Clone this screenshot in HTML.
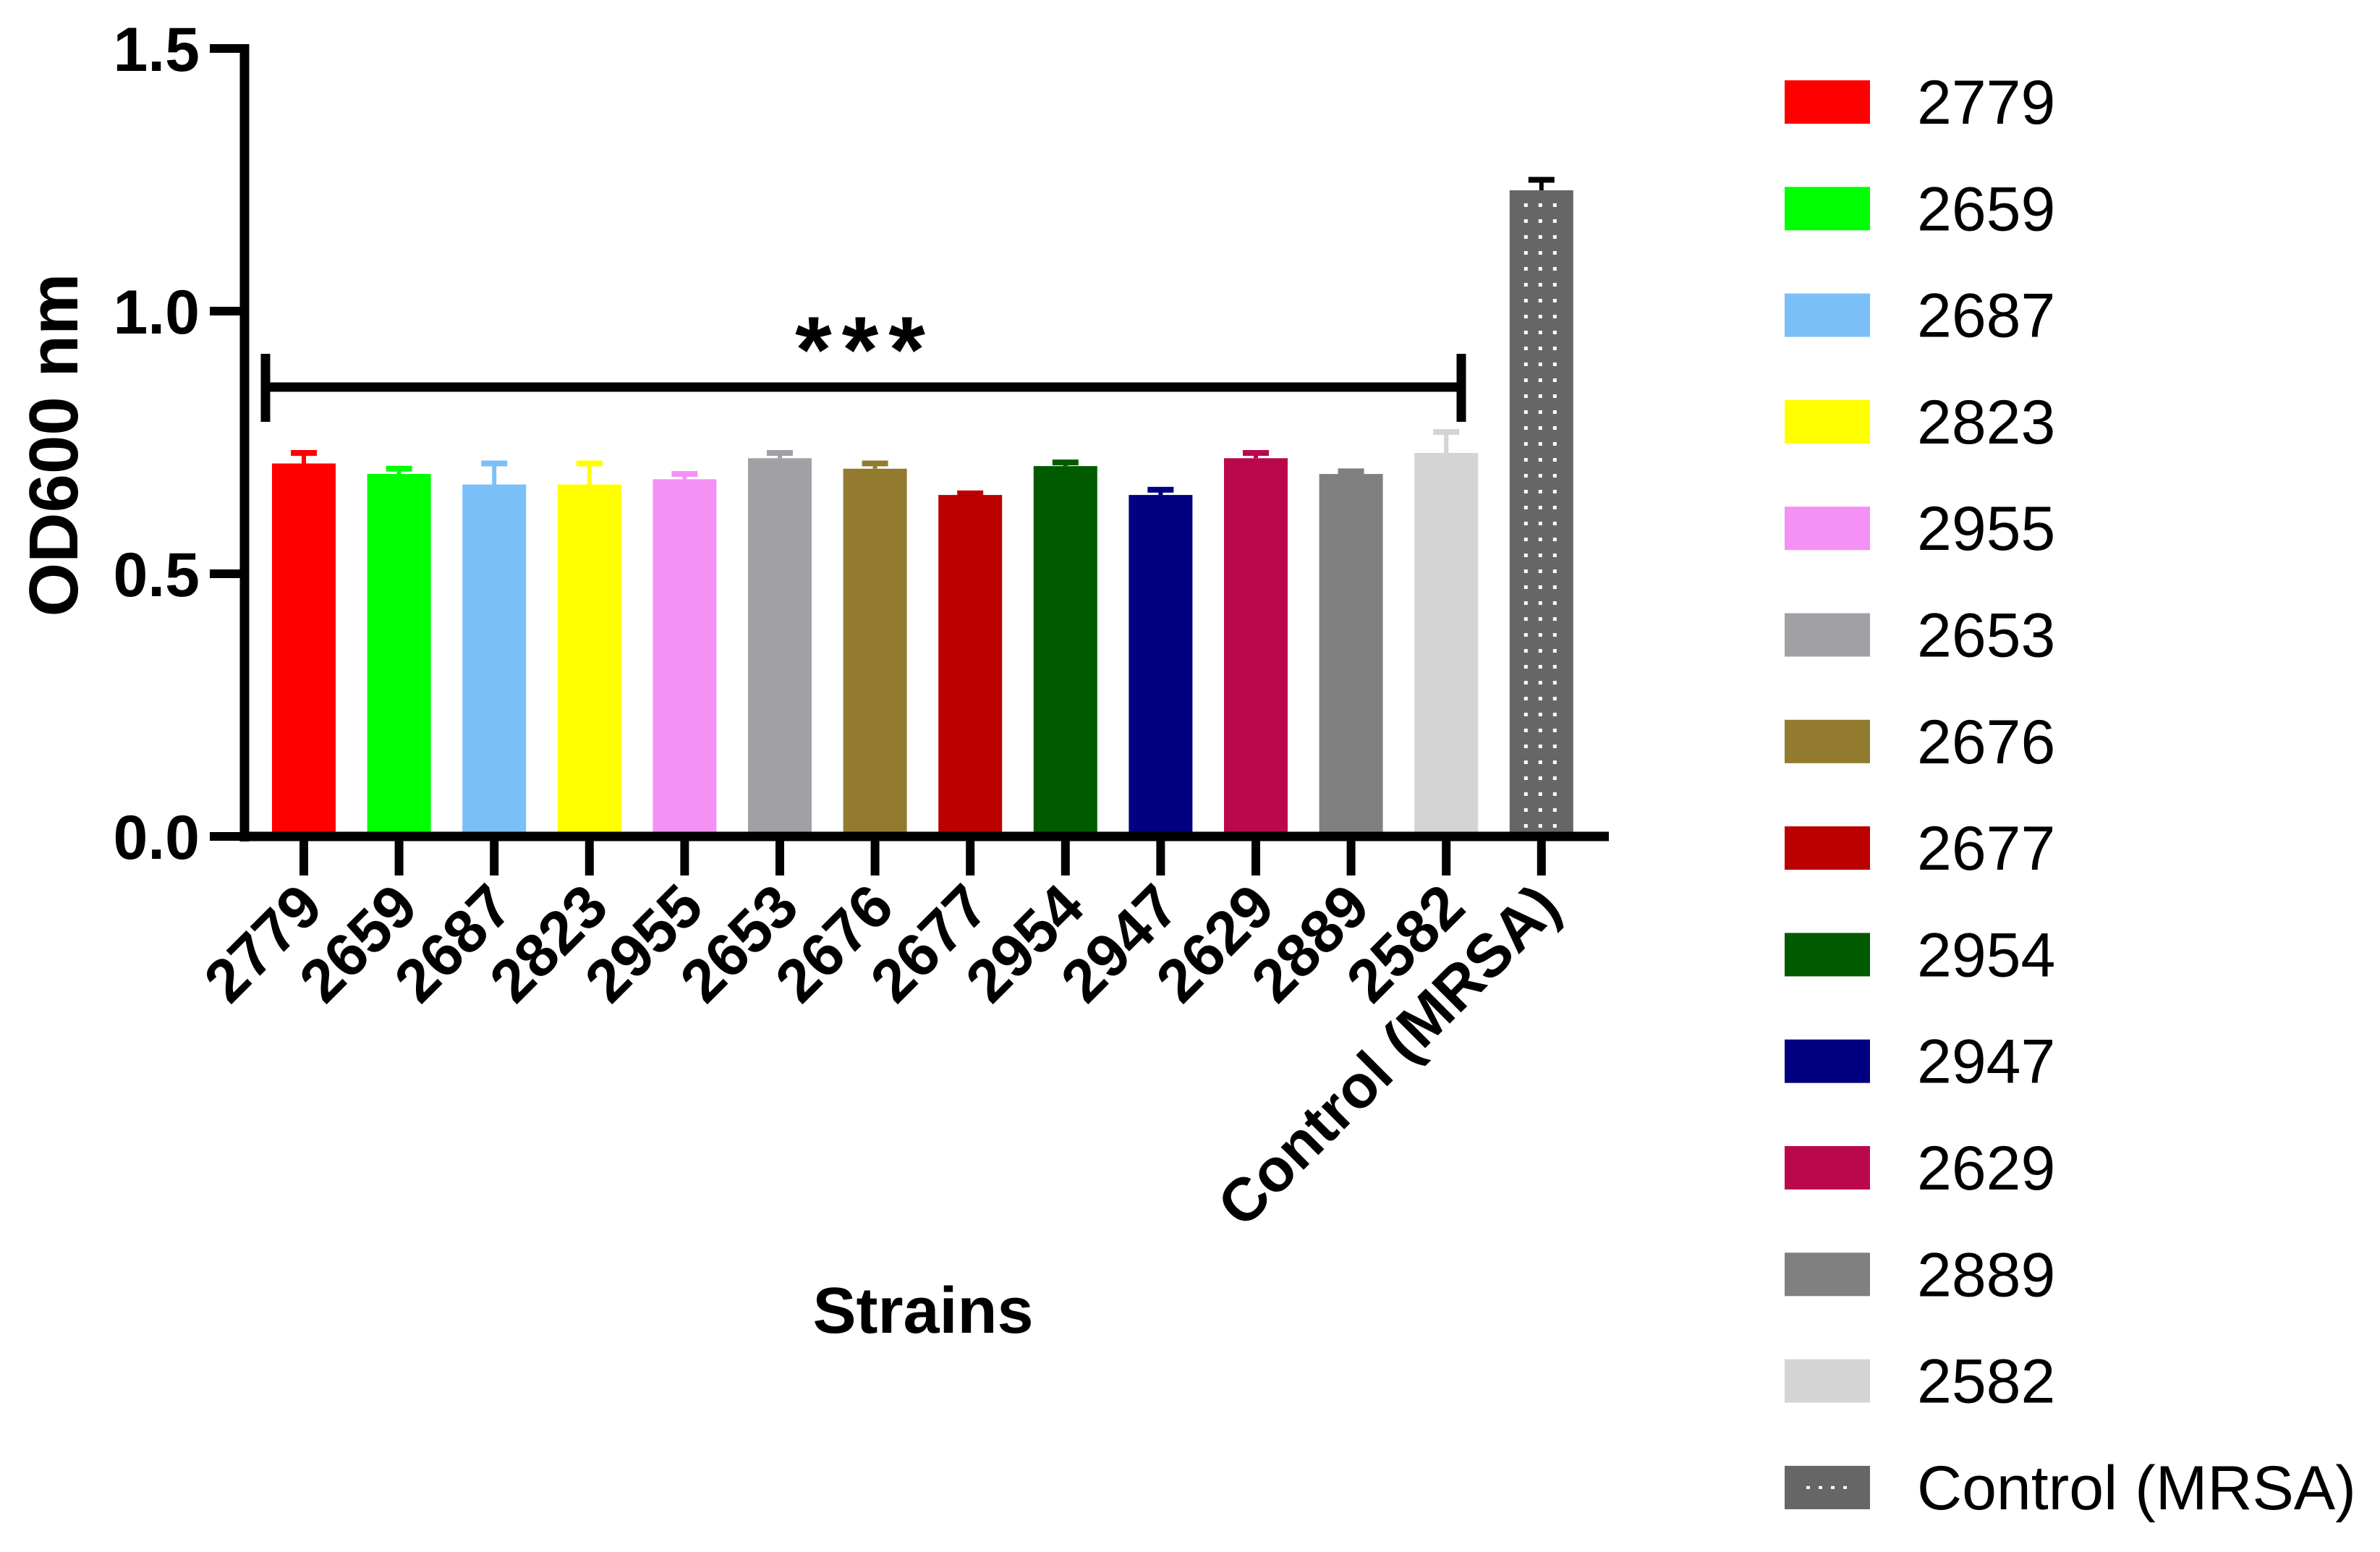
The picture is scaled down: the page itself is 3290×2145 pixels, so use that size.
<!DOCTYPE html>
<html><head><meta charset="utf-8">
<style>
html,body{margin:0;padding:0;background:#fff;}
svg{display:block;font-family:"Liberation Sans",Arial,sans-serif;}
</style></head>
<body>
<svg id="chart" width="3290" height="2145" viewBox="0 0 3290 2145" xmlns="http://www.w3.org/2000/svg">
<defs>
<pattern id="dots" x="2113" y="0" width="20" height="22" patternUnits="userSpaceOnUse">
<rect width="20" height="22" fill="#666666"/>
<rect x="24" y="0" width="0" height="0" fill="#fff"/>
</pattern>
</defs>
<g id="plot"></g>
</svg>
<script>
const categories = ["2779","2659","2687","2823","2955","2653","2676","2677","2954","2947","2629","2889","2582","Control (MRSA)"];
const means = [0.71,0.69,0.67,0.67,0.68,0.72,0.70,0.65,0.705,0.65,0.72,0.69,0.73,1.23];
const errors = [0.02,0.01,0.04,0.04,0.01,0.01,0.01,0.003,0.007,0.01,0.01,0.005,0.04,0.02];
const colors = ["#ff0000","#00ff00","#7bbff9","#ffff00","#f590f5","#a1a1a5","#927b2f","#bb0000","#005a00","#000080","#bb074c","#808080","#d4d4d4","#666666"];
const yTicks = [0.0,0.5,1.0,1.5];
const yTickLabels = ["0.0","0.5","1.0","1.5"];

const NS="http://www.w3.org/2000/svg";
const g=document.getElementById('plot');
const axX=338, y0=1156, y1=67, yMax=1.5;
function yScale(v){return y0-(y0-y1)*v/yMax;}
const firstX=420, step=131.6, barW=88;
function xScale(i){return firstX+i*step;}
function mk(tag,attrs){const e=document.createElementNS(NS,tag);for(const k in attrs)e.setAttribute(k,attrs[k]);g.appendChild(e);return e;}

categories.forEach((c,i)=>{
  const x=xScale(i), top=yScale(means[i]);
  const col = i===categories.length-1 ? "#000000" : colors[i];
  const eb=yScale(means[i]+errors[i]);
  const ev=mk('line',{x1:x,x2:x,y1:top,y2:eb,stroke:col,'stroke-width':6});
  
  
  const ec=mk('line',{x1:x-18,x2:x+18,y1:eb,y2:eb,stroke:col,'stroke-width':8});
  
  
  const r=mk('rect',{x:x-barW/2,y:top,width:barW,height:y0-top,fill:colors[i]});
  
  
  if(i===categories.length-1){
    for(let col2=0;col2<3;col2++){
      for(let yy=top+18; yy<y0-6; yy+=22){
        const d=mk('rect',{x:x-24+col2*20,y:yy,width:5,height:5,fill:'#ffffff'});
        
        
      }
    }
  }
  const t=mk('line',{x1:x,x2:x,y1:y0,y2:1210,stroke:'#000','stroke-width':12});
  
  
  const lbl=mk('text',{x:0,y:0,'text-anchor':'end','font-size':84,'font-weight':'bold',transform:`translate(${x+30},${1258}) rotate(-45)`});
  lbl.textContent=c;
  
  
});

const ya=mk('line',{x1:axX,x2:axX,y1:y1-6,y2:y0+7,stroke:'#000','stroke-width':13});


const xa=mk('line',{x1:axX-6,x2:2224,y1:y0,y2:y0,stroke:'#000','stroke-width':13});


yTicks.forEach((v,i)=>{
  const y=yScale(v);
  const t=mk('line',{x1:axX-48,x2:axX,y1:y,y2:y,stroke:'#000','stroke-width':12});
  
  
  const l=mk('text',{x:276,y:y+31,'text-anchor':'end','font-size':86,'font-weight':'bold'});
  l.textContent=yTickLabels[i];
  
  
});
const yt=mk('text',{x:0,y:0,'text-anchor':'middle','font-size':96,'font-weight':'bold',transform:'translate(107,615) rotate(-90)'});
yt.textContent='OD600 nm';


const xt=mk('text',{x:1276,y:1842,'text-anchor':'middle','font-size':90,'font-weight':'bold'});
xt.textContent='Strains';



const sb=mk('path',{d:'M367 489 V583 M367 535 H2020 M2020 489 V583',stroke:'#000','stroke-width':13,fill:'none'});


const st=mk('text',{x:1196,y:528,'text-anchor':'middle','font-size':130,'font-weight':'bold','letter-spacing':'14'});
st.textContent='***';



categories.forEach((c,i)=>{
  const cy=141+i*147.3;
  const r=mk('rect',{x:2467,y:cy-30,width:118,height:60,fill:colors[i]});
  
  
  if(i===categories.length-1){
    for(let k=0;k<4;k++){
      const d=mk('rect',{x:2497+k*17,y:cy-2,width:5,height:4,fill:'#fff'});
      
      
    }
  }
  const t=mk('text',{x:2650,y:cy+30,'font-size':86});
  t.textContent=c;
  
  
});
</script>
</body></html>
